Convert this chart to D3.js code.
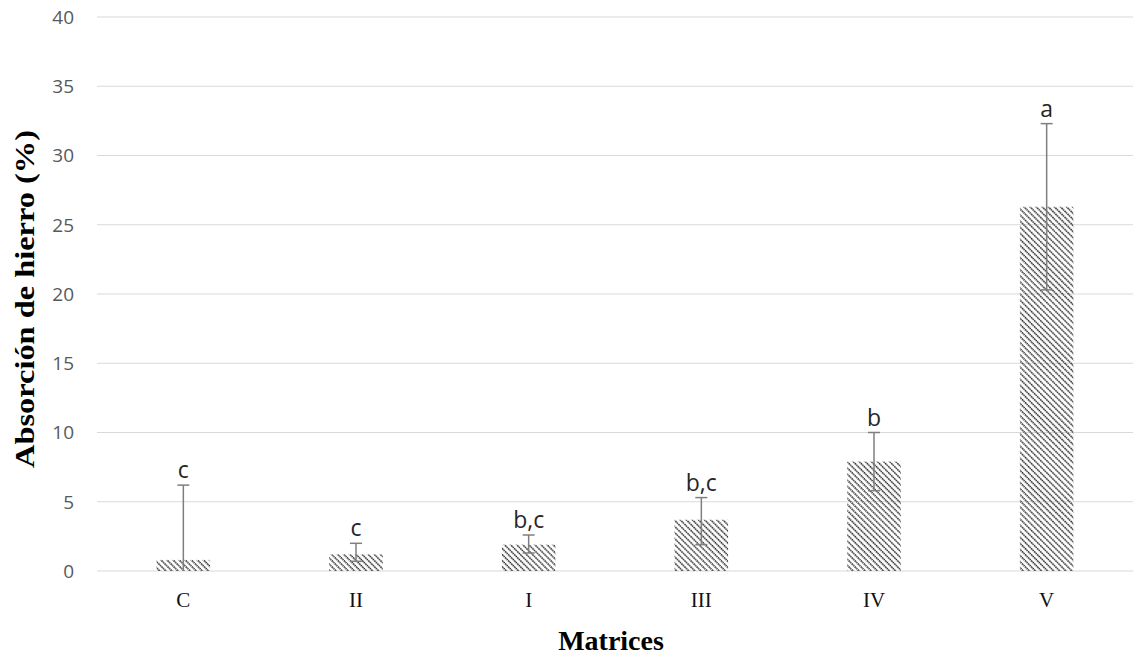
<!DOCTYPE html>
<html>
<head>
<meta charset="utf-8">
<script src="https://cdn.jsdelivr.net/npm/d3@7"></script>
<style>
  body { margin: 0; background: #fff; }
</style>
</head>
<body>
<svg id="chart" width="1143" height="655"></svg>
<script>
// data
var categories = ['C', 'II', 'I', 'III', 'IV', 'V'];
var means = [0.8, 1.2, 1.9, 3.7, 7.9, 26.3];
var errLow = [0, 0.7, 1.3, 1.9, 5.8, 20.3];
var errHigh = [6.2, 2.0, 2.6, 5.3, 10.0, 32.3];
var groups = ['c', 'c', 'b,c', 'b,c', 'b', 'a'];
var yTicks = [0, 5, 10, 15, 20, 25, 30, 35, 40];

var svg = d3.select('#chart');
var margin = { top: 17, left: 97, right: 10, bottom: 84 };
var width = 1143 - margin.left - margin.right;
var height = 655 - margin.top - margin.bottom;

// diagonal hatch like the original fill
var pat = svg.append('defs').append('pattern')
  .attr('id', 'hatch')
  .attr('patternUnits', 'userSpaceOnUse')
  .attr('width', 4.3)
  .attr('height', 4.3)
  .attr('patternTransform', 'rotate(-45)');
pat.append('line')
  .attr('x1', 1).attr('y1', 0).attr('x2', 1).attr('y2', 4.3)
  .attr('stroke', '#2a2a2a')
  .attr('stroke-width', 1.6)
  .attr('stroke-dasharray', '1.5,0.65');

var g = svg.append('g').attr('transform', 'translate(' + margin.left + ',' + margin.top + ')');

var x = d3.scaleBand().domain(categories).range([0, width]).paddingInner(0.69).paddingOuter(0.345);
var y = d3.scaleLinear().domain([0, 40]).range([height, 0]);

// gridlines
g.selectAll('.grid')
  .data(yTicks)
  .enter().append('line')
  .attr('class', 'grid')
  .attr('x1', 0).attr('x2', width)
  .attr('y1', function (d) { return y(d); })
  .attr('y2', function (d) { return y(d); })
  .attr('stroke', '#d9d9d9')
  .attr('stroke-width', 1);

// y tick labels
g.selectAll('.ytick')
  .data(yTicks)
  .enter().append('text')
  .attr('class', 'ytick')
  .attr('x', -23)
  .attr('y', function (d) { return y(d); })
  .attr('dy', '0.36em')
  .attr('text-anchor', 'end')
  .attr('font-family', 'Open Sans, sans-serif')
  .attr('font-size', 19)
  .attr('fill', '#595959')
  .text(function (d) { return d; });

// bars
g.selectAll('.bar')
  .data(means)
  .enter().append('rect')
  .attr('class', 'bar')
  .attr('x', function (d, i) { return x(categories[i]); })
  .attr('y', function (d) { return y(d); })
  .attr('width', x.bandwidth())
  .attr('height', function (d) { return height - y(d); })
  .attr('fill', 'url(#hatch)');

// error bars
var idx = d3.range(categories.length);
var eb = g.selectAll('.err')
  .data(idx)
  .enter().append('g')
  .attr('class', 'err')
  .attr('transform', function (i) { return 'translate(' + (x(categories[i]) + x.bandwidth() / 2) + ',0)'; });
eb.append('line')
  .attr('x1', 0).attr('x2', 0)
  .attr('y1', function (i) { return y(errLow[i]); })
  .attr('y2', function (i) { return y(errHigh[i]); })
  .attr('stroke', '#7f7f7f').attr('stroke-width', 1.5);
eb.append('line')
  .attr('x1', -6).attr('x2', 6)
  .attr('y1', function (i) { return y(errHigh[i]); })
  .attr('y2', function (i) { return y(errHigh[i]); })
  .attr('stroke', '#7f7f7f').attr('stroke-width', 1.5);
eb.filter(function (i) { return errLow[i] > 0; }).append('line')
  .attr('x1', -6).attr('x2', 6)
  .attr('y1', function (i) { return y(errLow[i]); })
  .attr('y2', function (i) { return y(errLow[i]); })
  .attr('stroke', '#7f7f7f').attr('stroke-width', 1.5);

// significance letters
g.selectAll('.grp')
  .data(groups)
  .enter().append('text')
  .attr('class', 'grp')
  .attr('x', function (d, i) { return x(categories[i]) + x.bandwidth() / 2; })
  .attr('y', function (d, i) { return y(errHigh[i]) - 7; })
  .attr('text-anchor', 'middle')
  .attr('font-family', 'Open Sans, sans-serif')
  .attr('font-size', 23)
  .attr('fill', '#262626')
  .text(function (d) { return d; });

// category labels
g.selectAll('.xtick')
  .data(categories)
  .enter().append('text')
  .attr('class', 'xtick')
  .attr('x', function (d) { return x(d) + x.bandwidth() / 2; })
  .attr('y', height + 36)
  .attr('text-anchor', 'middle')
  .attr('font-family', 'Liberation Serif, serif')
  .attr('font-size', 21)
  .attr('fill', '#111')
  .text(function (d) { return d; });

// axis titles
svg.append('text')
  .attr('x', 611)
  .attr('y', 650)
  .attr('text-anchor', 'middle')
  .attr('font-family', 'Liberation Serif, serif')
  .attr('font-weight', 'bold')
  .attr('font-size', 28)
  .attr('fill', '#000')
  .text('Matrices');

svg.append('text')
  .attr('transform', 'translate(34,299) rotate(-90) scale(1.2,1)')
  .attr('text-anchor', 'middle')
  .attr('font-family', 'Liberation Serif, serif')
  .attr('font-weight', 'bold')
  .attr('font-size', 27)
  .attr('fill', '#000')
  .text('Absorción de hierro (%)');
</script>
</body>
</html>
